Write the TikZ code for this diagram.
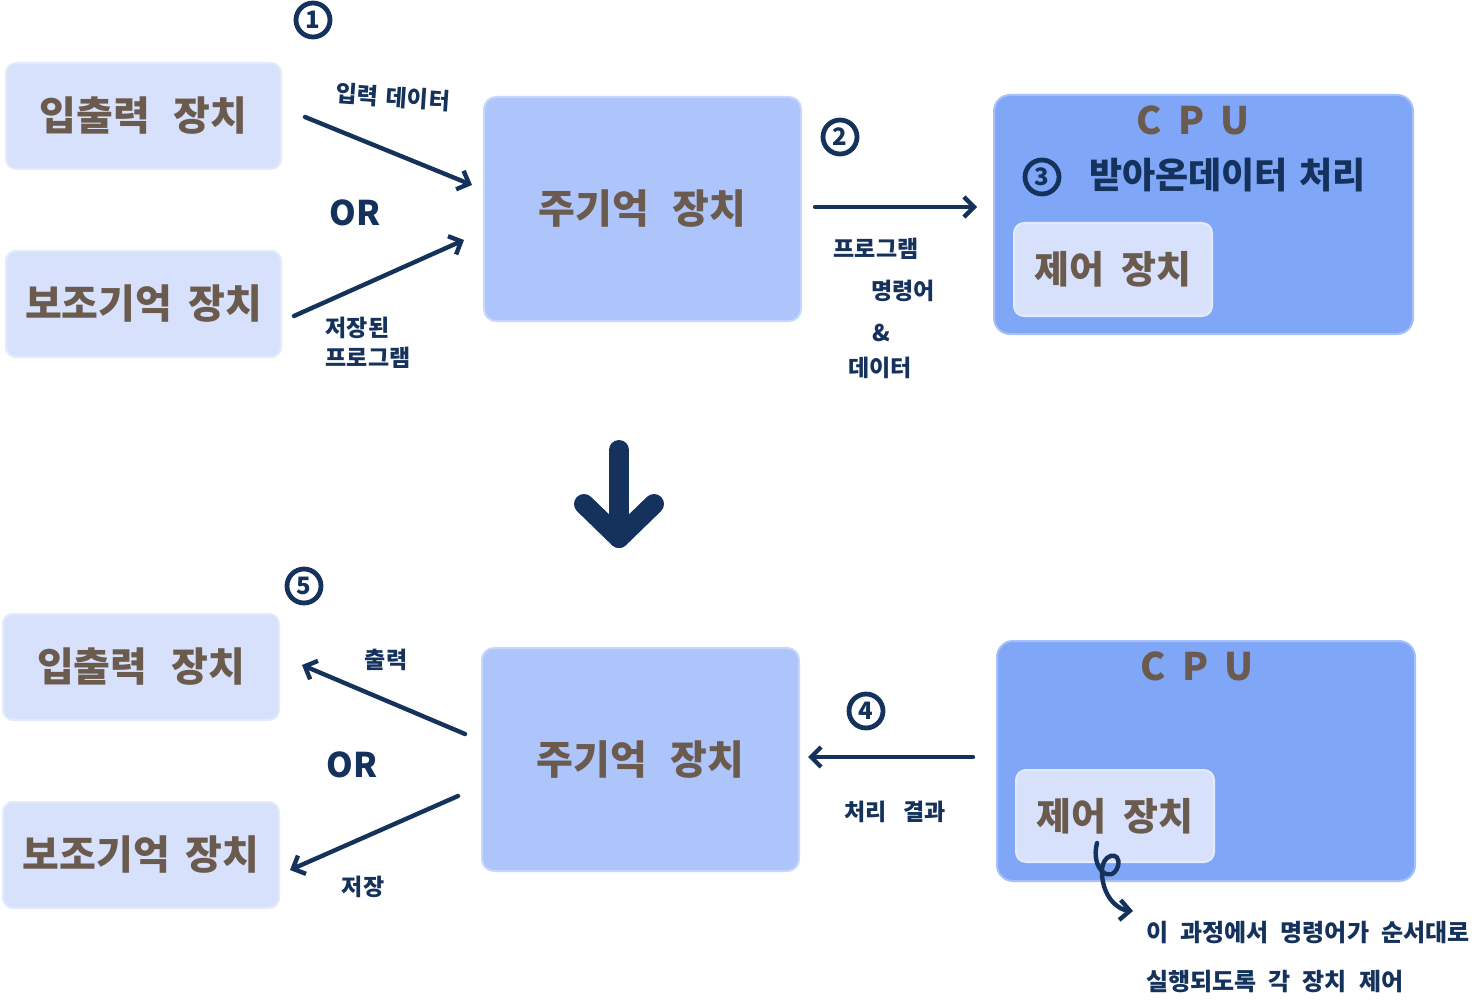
\documentclass[tikz,border=0pt]{standalone}
\usepackage{fontspec}
\setmainfont{Noto Sans CJK KR}
\usetikzlibrary{arrows.meta}
\definecolor{navy}{HTML}{14325B}
\definecolor{brownt}{HTML}{6B5A4E}
\definecolor{lightb}{HTML}{D7E1FB}
\definecolor{midb}{HTML}{AEC5FB}
\definecolor{cpub}{HTML}{80A7F7}
\tikzset{
  lightbox/.style={fill=lightb,draw=lightb!70!white,line width=1pt,rounded corners=5pt,inner sep=0pt},
  membox/.style={fill=midb,draw=midb!70!white,line width=1pt,rounded corners=6pt,inner sep=0pt},
  cpubox/.style={fill=cpub,draw=cpub!70!white,line width=1pt,rounded corners=8pt,inner sep=0pt},
  boxtext/.style={text=brownt,font=\fontsize{20pt}{22pt}\selectfont\bfseries},
  lbl/.style={text=navy,font=\fontsize{11.5pt}{15pt}\selectfont\bfseries,align=center},
  flow/.style={draw=navy,line width=2.2pt,line cap=round,-{Straight Barb[length=5pt,width=10pt,line width=2.2pt]}},
  numc/.style={circle,draw=navy,line width=2.4pt,inner sep=1pt,minimum size=17pt,text=navy,font=\fontsize{12pt}{12pt}\selectfont\bfseries},
  ortext/.style={text=navy,font=\fontsize{17pt}{17pt}\selectfont\bfseries},
  notetext/.style={text=navy,font=\fontsize{12pt}{15pt}\selectfont\bfseries,anchor=west,inner sep=0pt}
}
\begin{document}
\begin{tikzpicture}[x=0.5pt,y=-0.5pt]
\useasboundingbox (0,0) rectangle (1481,1000);
% ===== top row =====
\node[lightbox,minimum width=137.5pt,minimum height=53pt,anchor=north west] (io1) at (5,62) {};
\node[boxtext] at (io1.center) {입출력\hspace{12pt}장치};
\node[lightbox,minimum width=137.5pt,minimum height=53pt,anchor=north west] (aux1) at (5,250) {};
\node[boxtext] at (aux1.center) {보조기억\hspace{8pt}장치};
\node[membox,minimum width=158.5pt,minimum height=112pt,anchor=north west] (mem1) at (483,96) {};
\node[boxtext] at (mem1.center) {주기억\hspace{12pt}장치};
\node[cpubox,minimum width=209.5pt,minimum height=119.5pt,anchor=north west] (cpu1) at (993,94) {};
\node[text=brownt,font=\fontsize{19pt}{19pt}\selectfont\bfseries] (cpu1t) at (1193,120) {C\hspace{8pt}P\hspace{8pt}U};
\node[numc] (n3) at (1042,177) {3};
\node[text=navy,font=\fontsize{18pt}{18pt}\selectfont\bfseries,anchor=west] (cpu1d) at (1082,175) {받아온데이터\hspace{6pt}처리};
\node[lightbox,minimum width=99pt,minimum height=46.5pt,anchor=north west] (ctl1) at (1013,222) {};
\node[boxtext,font=\fontsize{19pt}{20pt}\selectfont\bfseries] at (ctl1.center) {제어\hspace{9pt}장치};

\coordinate (a1s) at (305,117); \coordinate (a1e) at (472,185);
\coordinate (a2s) at (294,316); \coordinate (a2e) at (464,240);
\draw[flow] (a1s) -- (a1e);
\draw[flow] (a2s) -- (a2e);
\node[numc] (n1) at (313,20) {1};
\node[lbl,rotate=-4] (l1) at (393,97) {입력\hspace{4pt}데이터};
\node[ortext] (or1) at (355,213) {OR};
\node[lbl,align=left] (l2) at (368,343) {저장된\\프로그램};

\coordinate (a3s) at (815,207); \coordinate (a3e) at (977,207);
\draw[flow] (a3s) -- (a3e);
\node[numc] (n2) at (840,137) {2};
\node[lbl] (l3a) at (876,249) {프로그램};
\node[lbl] (l3b) at (903,291) {명령어};
\node[lbl] (l3c) at (881,333) {\&};
\node[lbl] (l3d) at (880,368) {데이터};

% ===== big down arrow =====
\coordinate (da) at (619,450); \coordinate (db) at (619,538);
\draw[navy,line width=10pt,line cap=round] (da) -- (db);
\draw[navy,line width=10pt,line cap=round,line join=round] (584,504) -- (db) -- (654,504);

% ===== bottom row =====
\node[lightbox,minimum width=138pt,minimum height=53pt,anchor=north west] (io2) at (2,613) {};
\node[boxtext] at (io2.center) {입출력\hspace{12pt}장치};
\node[lightbox,minimum width=138pt,minimum height=53pt,anchor=north west] (aux2) at (2,801) {};
\node[boxtext] at (aux2.center) {보조기억\hspace{8pt}장치};
\node[membox,minimum width=158.5pt,minimum height=111.5pt,anchor=north west] (mem2) at (481,647) {};
\node[boxtext] at (mem2.center) {주기억\hspace{12pt}장치};
\node[cpubox,minimum width=209pt,minimum height=120pt,anchor=north west] (cpu2) at (996,640) {};
\node[text=brownt,font=\fontsize{19pt}{19pt}\selectfont\bfseries] (cpu2t) at (1197,666) {C\hspace{8pt}P\hspace{8pt}U};
\node[lightbox,minimum width=99pt,minimum height=46pt,anchor=north west] (ctl2) at (1015,769) {};
\node[boxtext,font=\fontsize{19pt}{20pt}\selectfont\bfseries] at (ctl2.center) {제어\hspace{9pt}장치};

\coordinate (b1s) at (465,734); \coordinate (b1e) at (302,665);
\coordinate (b2s) at (458,796); \coordinate (b2e) at (290,870);
\draw[flow] (b1s) -- (b1e);
\draw[flow] (b2s) -- (b2e);
\node[numc] (n5) at (304,586) {5};
\node[lbl] (l4) at (386,660) {출력};
\node[ortext] (or2) at (352,765) {OR};
\node[lbl] (l5) at (363,887) {저장};

\coordinate (b3s) at (973,757); \coordinate (b3e) at (808,757);
\draw[flow] (b3s) -- (b3e);
\node[numc] (n4) at (866,711) {4};
\node[lbl] (l6) at (895,812) {처리\hspace{8pt}결과};

% curly arrow
\coordinate (cs) at (1097,843);
\coordinate (ce) at (1133,911);
\draw[navy,line width=2.2pt,line cap=round,-{Straight Barb[length=5pt,width=10pt,line width=2.2pt]}]
  (cs) .. controls (1090,870) and (1112,885) .. (1118,866)
  .. controls (1122,850) and (1100,852) .. (1102,875)
  .. controls (1104,900) and (1120,910) .. (ce);
\node[notetext] (note1) at (1146,933) {이\hspace{6pt}과정에서\hspace{6pt}명령어가\hspace{6pt}순서대로};
\node[notetext] (note2) at (1146,982) {실행되도록\hspace{6pt}각\hspace{6pt}장치\hspace{6pt}제어};
\end{tikzpicture}
\end{document}
